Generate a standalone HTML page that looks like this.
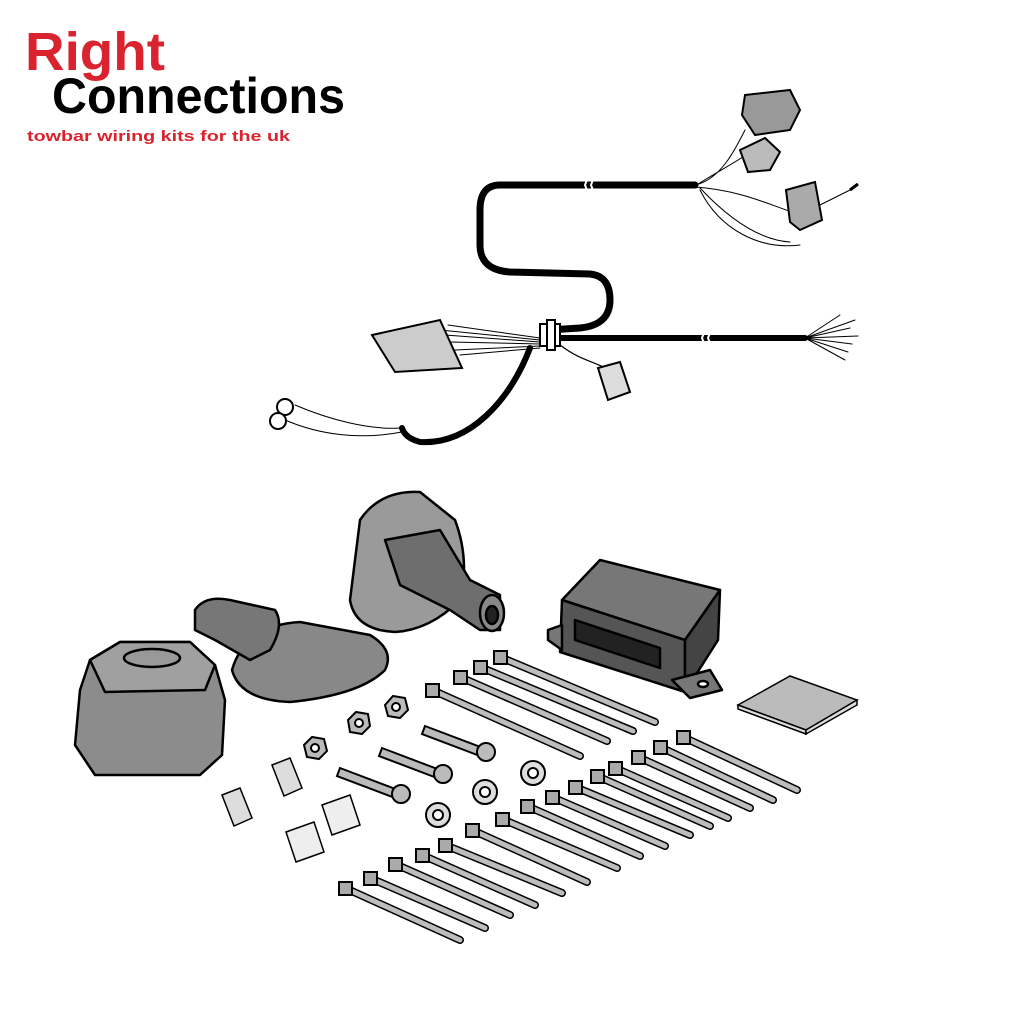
<!DOCTYPE html>
<html><head><style>html,body{margin:0;padding:0;background:#fff}svg{display:block}</style></head>
<body>
<svg width="1024" height="1024" viewBox="0 0 1024 1024" xmlns="http://www.w3.org/2000/svg">
<rect width="1024" height="1024" fill="#fff"/>
<!-- Logo -->
<text x="25" y="70" font-family="Liberation Sans, sans-serif" font-weight="bold" font-size="54" fill="#d9232e" textLength="140" lengthAdjust="spacingAndGlyphs">Right</text>
<text x="52" y="113" font-family="Liberation Sans, sans-serif" font-weight="bold" font-size="50" fill="#000" textLength="293" lengthAdjust="spacingAndGlyphs">Connections</text>
<text x="27" y="141" font-family="Liberation Sans, sans-serif" font-weight="bold" font-size="15" fill="#d9232e" textLength="263" lengthAdjust="spacingAndGlyphs">towbar wiring kits for the uk</text>

<g fill="none" stroke="#000" stroke-linecap="round" stroke-linejoin="round">
<!-- main harness -->
<path d="M695,185 L500,185 Q480,185 480,210 L480,245 Q480,270 510,272 L590,274 Q610,276 610,300 Q610,325 580,328 L548,330" stroke-width="7"/>
<path d="M560,338 L805,338" stroke-width="6"/>
<path d="M530,348 C510,400 470,445 420,442 Q405,438 402,428" stroke-width="6"/>
<!-- thin wires right top -->
<path d="M695,185 C720,180 735,150 745,130 M695,186 C720,170 740,160 750,152 M695,187 C740,190 770,205 792,212 M700,188 C730,220 760,240 790,242 M700,190 C720,230 760,250 800,245 M810,210 L850,190" stroke-width="1"/>
<!-- thin wires to connector left -->
<path d="M440,330 L540,340 M445,335 L540,342 M450,342 L540,344 M455,350 L540,346 M460,355 L540,348 M448,325 L540,338" stroke-width="1"/>
<path d="M560,345 C580,360 590,360 610,370" stroke-width="1.2"/>
<path d="M295,405 C330,420 370,430 400,428 M285,420 C320,435 360,440 402,432" stroke-width="1"/>
<!-- right fan -->
<path d="M805,338 L855,320 M805,338 L850,328 M805,338 L858,336 M805,338 L852,344 M805,338 L848,352 M805,338 L845,360 M805,338 L840,315" stroke-width="1"/>
<!-- breaks -->
<path d="M588,177 l-3,8 l3,8 M594,177 l-3,8 l3,8 M705,330 l-3,8 l3,8 M711,330 l-3,8 l3,8" stroke="#fff" stroke-width="2"/>
</g>
<!-- clip -->
<rect x="540" y="324" width="20" height="22" fill="#fff" stroke="#000" stroke-width="2"/>
<rect x="547" y="320" width="8" height="30" fill="#fff" stroke="#000" stroke-width="2"/>
<!-- connectors on harness -->
<g stroke="#000" stroke-width="2" fill="#999">
<polygon points="745,95 790,90 800,110 790,130 755,135 742,115"/>
<polygon points="740,150 765,138 780,152 770,170 748,172" fill="#bbb"/>
<polygon points="786,190 815,182 822,220 800,230 790,222" fill="#aaa"/>
<polygon points="372,335 440,320 462,368 395,372" fill="#ccc"/>
<polygon points="598,368 620,362 630,392 608,400" fill="#ddd"/>
<circle cx="285" cy="407" r="8" fill="#fff"/>
<circle cx="278" cy="421" r="8" fill="#fff"/>
<path d="M850,190 l8,-6" stroke-width="3"/>
</g>

<!-- grommet -->
<g stroke="#000" stroke-width="2.5" stroke-linejoin="round">
<path d="M360,520 Q380,490 420,492 L455,520 Q470,560 460,600 Q430,630 395,632 Q355,630 350,600 Z" fill="#9a9a9a"/>
<path d="M385,540 L440,530 L470,580 L500,595 L500,630 L480,630 L450,610 L400,585 Z" fill="#6e6e6e"/>
<ellipse cx="492" cy="613" rx="12" ry="18" fill="#888"/>
<ellipse cx="492" cy="615" rx="6" ry="9" fill="#222"/>
</g>
<!-- gasket / cover -->
<g stroke="#000" stroke-width="2.5" stroke-linejoin="round">
<path d="M232,670 Q245,625 300,622 L370,635 Q395,650 385,670 Q360,695 290,702 Q240,700 232,670 Z" fill="#888"/>
<path d="M195,610 Q205,595 230,600 L275,610 Q285,625 270,650 L250,660 L215,640 L195,630 Z" fill="#777"/>
</g>
<!-- 13 pin socket -->
<g stroke="#000" stroke-width="2.5" stroke-linejoin="round">
<path d="M90,660 L120,642 L190,642 L215,665 L225,700 L222,755 L200,775 L95,775 L75,745 L80,690 Z" fill="#8c8c8c"/>
<path d="M90,660 L120,642 L190,642 L215,665 L205,690 L105,692 Z" fill="#a0a0a0"/>
<ellipse cx="152" cy="658" rx="28" ry="9" fill="#999"/>
</g>
<!-- module -->
<g stroke="#000" stroke-width="2.5" stroke-linejoin="round">
<path d="M562,600 L600,560 L720,590 L685,640 Z" fill="#777"/>
<path d="M562,600 L685,640 L685,692 L560,652 Z" fill="#555"/>
<path d="M685,640 L720,590 L718,640 L685,692 Z" fill="#444"/>
<path d="M548,630 L562,625 L562,650 L548,640 Z" fill="#777"/>
<path d="M672,680 L710,670 L722,690 L690,698 Z" fill="#777"/>
<ellipse cx="703" cy="684" rx="5" ry="3" fill="#fff"/>
<path d="M575,620 L660,648 L660,668 L575,640 Z" fill="#222"/>
</g>
<!-- pad -->
<g stroke="#000" stroke-width="1.5"><polygon points="738,705 790,676 857,700 806,730" fill="#bbb"/><polygon points="738,705 806,730 806,734 738,709" fill="#ddd"/><polygon points="806,730 857,700 857,705 806,734" fill="#ddd"/></g>

<!-- nuts, bolts, washers -->
<g stroke="#000" stroke-width="2" fill="#bbb">
<polygon points="348,720 356,712 368,714 370,726 362,734 350,732"/><circle cx="359" cy="723" r="4" fill="#fff"/>
<polygon points="385,705 393,696 405,698 408,710 400,718 388,716"/><circle cx="396" cy="707" r="4" fill="#fff"/>
<polygon points="304,745 312,737 324,739 327,751 319,759 307,757"/><circle cx="315" cy="748" r="4" fill="#fff"/>
<path d="M425,726 L483,748 L480,756 L422,734 Z"/><circle cx="486" cy="752" r="9"/>
<path d="M382,748 L440,770 L437,778 L379,756 Z"/><circle cx="443" cy="774" r="9"/>
<path d="M340,768 L398,790 L395,798 L337,776 Z"/><circle cx="401" cy="794" r="9"/>
<circle cx="485" cy="792" r="12" fill="#ddd"/><circle cx="485" cy="792" r="5" fill="#fff"/>
<circle cx="533" cy="773" r="12" fill="#ddd"/><circle cx="533" cy="773" r="5" fill="#fff"/>
<circle cx="438" cy="815" r="12" fill="#ddd"/><circle cx="438" cy="815" r="5" fill="#fff"/>
</g>
<!-- fuses & holders -->
<g stroke="#000" stroke-width="1.5" fill="#ddd">
<polygon points="222,795 240,788 252,818 234,826"/>
<polygon points="272,765 290,758 302,788 284,796"/>
<polygon points="322,805 350,795 360,825 332,835" fill="#eee"/>
<polygon points="286,832 314,822 324,852 296,862" fill="#eee"/>
</g>

<!-- cable ties -->
<g id="ties" stroke-linecap="round">
<g stroke="#000" stroke-width="8">
<path d="M500,657 L655,722 M480,667 L633,731 M460,677 L607,741 M432,690 L580,756 M683,737 L797,790 M660,747 L773,800 M638,757 L750,808 M615,768 L728,818 M597,776 L710,826 M575,787 L690,835 M552,797 L665,846 M527,806 L640,856 M502,819 L617,868 M472,830 L587,882 M445,845 L562,893 M422,855 L535,905 M395,864 L510,915 M370,878 L485,928 M345,888 L460,940"/>
</g>
<g stroke="#bdbdbd" stroke-width="5">
<path d="M500,657 L655,722 M480,667 L633,731 M460,677 L607,741 M432,690 L580,756 M683,737 L797,790 M660,747 L773,800 M638,757 L750,808 M615,768 L728,818 M597,776 L710,826 M575,787 L690,835 M552,797 L665,846 M527,806 L640,856 M502,819 L617,868 M472,830 L587,882 M445,845 L562,893 M422,855 L535,905 M395,864 L510,915 M370,878 L485,928 M345,888 L460,940"/>
</g>
<g fill="#aaa" stroke="#000" stroke-width="2">
<rect x="494" y="651" width="13" height="13"/><rect x="474" y="661" width="13" height="13"/><rect x="454" y="671" width="13" height="13"/><rect x="426" y="684" width="13" height="13"/>
<rect x="677" y="731" width="13" height="13"/><rect x="654" y="741" width="13" height="13"/><rect x="632" y="751" width="13" height="13"/><rect x="609" y="762" width="13" height="13"/><rect x="591" y="770" width="13" height="13"/><rect x="569" y="781" width="13" height="13"/><rect x="546" y="791" width="13" height="13"/><rect x="521" y="800" width="13" height="13"/><rect x="496" y="813" width="13" height="13"/>
<rect x="466" y="824" width="13" height="13"/><rect x="439" y="839" width="13" height="13"/><rect x="416" y="849" width="13" height="13"/><rect x="389" y="858" width="13" height="13"/><rect x="364" y="872" width="13" height="13"/><rect x="339" y="882" width="13" height="13"/>
</g>
</g>
</svg>
</body></html>
